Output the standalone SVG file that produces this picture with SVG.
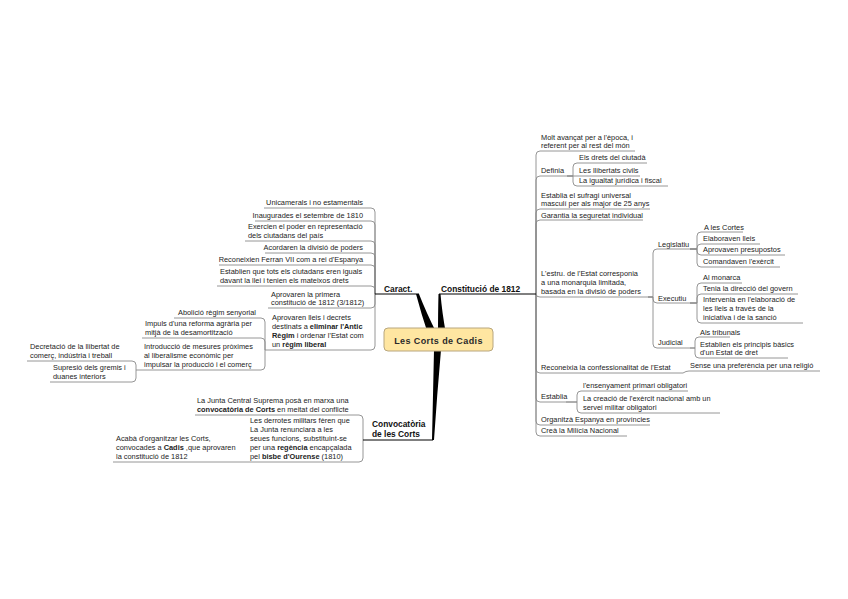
<svg xmlns="http://www.w3.org/2000/svg" width="848" height="599" viewBox="0 0 848 599">
<style>
.t{font-family:"Liberation Sans",Arial,sans-serif;font-size:7.4px;fill:#222}
.e{text-anchor:end}
.b{font-weight:bold}
.m{font-family:"Liberation Sans",Arial,sans-serif;font-size:8.4px;font-weight:bold;fill:#111}
.u{stroke:#8a8a8a;stroke-width:0.9;fill:none}
.mu{stroke:#000;stroke-width:1;fill:none}
.c{stroke:#8a8a8a;stroke-width:0.9;fill:none}
.tp{fill:#000}
</style>
<rect width="848" height="599" fill="#fff"/>

<g id="connectors">
  <path class="tp" d="M416,294 L419,294 Q426,312 437,334 L428,334 Q421,313 416,294 Z"/>
  <path class="tp" d="M438.5,294 L440.5,294 Q442,312 446,334 L438,334 Q438,312 438.5,294 Z"/>
  <path class="tp" d="M434,350 L441,350 Q437,395 434,440 L432,440 Q433,395 434,350 Z"/>
  <path class="c" d="M375,294 V212 Q375,208 371,208"/>
  <path class="c" d="M375,294 V225 Q375,221 371,221"/>
  <path class="c" d="M375,294 V245 Q375,241 371,241"/>
  <path class="c" d="M375,294 V257 Q375,253 371,253"/>
  <path class="c" d="M375,294 V269 Q375,265 371,265"/>
  <path class="c" d="M375,294 V290 Q375,286 371,286"/>
  <path class="c" d="M375,294 V304 Q375,308 371,308"/>
  <path class="c" d="M375,294 V346 Q375,350 371,350"/>
  <path class="c" d="M265,350 V322 Q265,318 261,318"/>
  <path class="c" d="M265,350 V342 Q265,338 261,338"/>
  <path class="c" d="M265,350 V366 Q265,370 261,370"/>
  <path class="c" d="M136,370 V365 Q136,361 132,361"/>
  <path class="c" d="M136,370 V378 Q136,382 132,382"/>
  <path class="c" d="M363,440 V419 Q363,415 359,415"/>
  <path class="c" d="M363,440 V458 Q363,462 359,462"/>
  <path class="c" d="M242,462 Q240,462 238,462"/>
  <path class="c" d="M536,294 V155 Q536,151 540,151"/>
  <path class="c" d="M536,294 V180 Q536,176 540,176"/>
  <path class="c" d="M536,294 V213 Q536,209 540,209"/>
  <path class="c" d="M536,294 V224 Q536,220 540,220"/>
  <path class="c" d="M536,294 Q536,297 540,297"/>
  <path class="c" d="M536,294 V369 Q536,373 540,373"/>
  <path class="c" d="M536,294 V398 Q536,402 540,402"/>
  <path class="c" d="M536,294 V421 Q536,425 540,425"/>
  <path class="c" d="M536,294 V432 Q536,436 540,436"/>
  <path class="c" d="M567,176 H573 V167 Q573,163 577,163"/>
  <path class="c" d="M567,176 H577"/>
  <path class="c" d="M567,176 H573 V182 Q573,186 577,186"/>
  <path class="c" d="M648,297 H653 V253 Q653,249 657,249"/>
  <path class="c" d="M648,297 H653 V299 Q653,303 657,303"/>
  <path class="c" d="M648,297 H653 V344 Q653,348 657,348"/>
  <path class="c" d="M690,249 H697 V236 Q697,232 701,232"/>
  <path class="c" d="M690,249 H697 V248 Q697,244 701,244"/>
  <path class="c" d="M690,249 H697 V251 Q697,255 701,255"/>
  <path class="c" d="M690,249 H697 V263 Q697,267 701,267"/>
  <path class="c" d="M690,303 H697 V287 Q697,283 701,283"/>
  <path class="c" d="M690,303 H697 V298 Q697,294 701,294"/>
  <path class="c" d="M690,303 H697 V319 Q697,323 701,323"/>
  <path class="c" d="M690,348 H695 V341 Q695,337 699,337"/>
  <path class="c" d="M690,348 H695 V354 Q695,358 699,358"/>
  <path class="c" d="M683,373 Q686,371 689,371"/>
  <path class="c" d="M566,402 H577 V395 Q577,391 581,391"/>
  <path class="c" d="M566,402 H577 V409 Q577,413 581,413"/>
</g>

<g id="n-center">
  <rect x="384" y="328" width="109" height="23" rx="4" fill="#FFE6A1" stroke="#B8A67E" stroke-width="1"/>
  <text x="438.5" y="344" text-anchor="middle" font-family="'Liberation Sans',Arial,sans-serif" font-size="9" font-weight="bold" letter-spacing="0.4" fill="#2a2a2a">Les Corts de Cadis</text>
</g>

<g id="n-caract">
  <text class="m" x="384" y="292">Caract.</text>
  <path class="mu" d="M375,294 H419"/>
</g>
<g id="n-ca1"><text class="t e" x="363" y="204.5">Unicamerals i no estamentals</text><path class="u" d="M264,208 H371"/></g>
<g id="n-ca2"><text class="t e" x="363" y="217.5">Inaugurades el setembre de 1810</text><path class="u" d="M255,221 H371"/></g>
<g id="n-ca3"><text class="t" x="248" y="228.5">Exercien el poder en representació</text><text class="t" x="248" y="237.5">dels ciutadans del país</text><path class="u" d="M245,241 H371"/></g>
<g id="n-ca4"><text class="t e" x="363" y="249.5">Acordaren la divisió de poders</text><path class="u" d="M265,253 H371"/></g>
<g id="n-ca5"><text class="t e" x="363" y="261.5">Reconeixien Ferran VII com a rei d'Espanya</text><path class="u" d="M219,265 H371"/></g>
<g id="n-ca6"><text class="t" x="220" y="273.5">Establien que tots els ciutadans eren iguals</text><text class="t" x="220" y="282.5">davant la llei i tenien els mateixos drets</text><path class="u" d="M217,286 H371"/></g>
<g id="n-ca7"><text class="t" x="271" y="297">Aprovaren la primera</text><text class="t" x="271" y="305">constitució de 1812 (3/1812)</text><path class="u" d="M268,308 H371"/></g>
<g id="n-ca8"><text class="t" x="272" y="320">Aprovaren lleis i decrets</text><text class="t" x="272" y="329">destinats a <tspan class="b">eliminar l'Antic</tspan></text><text class="t" x="272" y="338"><tspan class="b">Règim</tspan> i ordenar l'Estat com</text><text class="t" x="272" y="347">un <tspan class="b">règim liberal</tspan></text><path class="u" d="M265,350 H371"/></g>
<g id="n-ca8a"><text class="t e" x="256" y="315">Abolició règim senyorial</text><path class="u" d="M174,318 H261"/></g>
<g id="n-ca8b"><text class="t" x="145" y="326">Impuls d'una reforma agrària per</text><text class="t" x="145" y="335">mitjà de la desamortització</text><path class="u" d="M142,338 H261"/></g>
<g id="n-ca8c"><text class="t" x="144" y="349">Introducció de mesures pròximes</text><text class="t" x="144" y="358">al liberalisme econòmic per</text><text class="t" x="144" y="367">impulsar la producció i el comerç</text><path class="u" d="M136,370 H261"/></g>
<g id="n-ca8c1"><text class="t" x="30" y="349">Decretació de la llibertat de</text><text class="t" x="30" y="358">comerç, indústria i treball</text><path class="u" d="M27,361 H132"/></g>
<g id="n-ca8c2"><text class="t" x="53" y="370">Supresió dels gremis i</text><text class="t" x="53" y="379">duanes interiors</text><path class="u" d="M50,382 H132"/></g>

<g id="n-convocatoria">
  <text class="m" x="372" y="427">Convocatòria</text>
  <text class="m" x="372" y="437">de les Corts</text>
  <path class="mu" d="M363,440 H433"/>
</g>
<g id="n-co1"><text class="t" x="197" y="403">La Junta Central Suprema posà en marxa una</text><text class="t" x="197" y="412"><tspan class="b">convocatòria de Corts</tspan> en meitat del conflicte</text><path class="u" d="M195,415 H359"/></g>
<g id="n-co2"><text class="t" x="250" y="423">Les derrotes militars fèren que</text><text class="t" x="250" y="432">La Junta renunciara a les</text><text class="t" x="250" y="441">seues funcions, substituint-se</text><text class="t" x="250" y="450">per una <tspan class="b">regència</tspan> encapçalada</text><text class="t" x="250" y="459">pel <tspan class="b">bisbe d'Ourense</tspan> (1810)</text><path class="u" d="M242,462 H359"/></g>
<g id="n-co2a"><text class="t" x="116" y="441">Acabà d'organitzar les Corts,</text><text class="t" x="116" y="450">convocades a <tspan class="b">Cadis</tspan> ,que aprovaren</text><text class="t" x="116" y="459">la constitució de 1812</text><path class="u" d="M113,462 H238"/></g>

<g id="n-constitucio">
  <text class="m" x="441" y="292">Constitució de 1812</text>
  <path class="mu" d="M439,294 H536"/>
</g>
<g id="n-r1"><text class="t" x="541" y="139.5">Molt avançat per a l'època, i</text><text class="t" x="541" y="148">referent per al rest del món</text><path class="u" d="M540,151 H635"/></g>
<g id="n-r2"><text class="t" x="541" y="173">Definia</text><path class="u" d="M540,176 H567"/></g>
<g id="n-r2a"><text class="t" x="579" y="160">Els drets del ciutadà</text><path class="u" d="M577,163 H647"/></g>
<g id="n-r2b"><text class="t" x="579" y="173">Les llibertats civils</text><path class="u" d="M577,176 H640"/></g>
<g id="n-r2c"><text class="t" x="579" y="183">La igualtat jurídica i fiscal</text><path class="u" d="M577,186 H668"/></g>
<g id="n-r3"><text class="t" x="541" y="197.5">Establia el sufragi universal</text><text class="t" x="541" y="206">masculí per als major de 25 anys</text><path class="u" d="M540,209 H650"/></g>
<g id="n-r4"><text class="t" x="541" y="217.5">Garantia la seguretat individual</text><path class="u" d="M540,220 H643"/></g>
<g id="n-r5"><text class="t" x="541" y="276">L'estru. de l'Estat corresponia</text><text class="t" x="541" y="285">a una monarquia limitada,</text><text class="t" x="541" y="294">basada en la divisió de poders</text><path class="u" d="M540,297 H648"/></g>
<g id="n-leg"><text class="t" x="658" y="246.5">Legislatiu</text><path class="u" d="M657,249 H690"/></g>
<g id="n-leg1"><text class="t" x="704" y="229.5">A les Cortes</text><path class="u" d="M701,232 H743"/></g>
<g id="n-leg2"><text class="t" x="703" y="241">Elaboraven lleis</text><path class="u" d="M701,244 H760"/></g>
<g id="n-leg3"><text class="t" x="703" y="252">Aprovaven presupostos</text><path class="u" d="M701,255 H785"/></g>
<g id="n-leg4"><text class="t" x="703" y="264">Comandaven l'exèrcit</text><path class="u" d="M701,267 H780"/></g>
<g id="n-exe"><text class="t" x="658" y="300.5">Executiu</text><path class="u" d="M657,303 H690"/></g>
<g id="n-exe1"><text class="t" x="703" y="280">Al monarca</text><path class="u" d="M701,283 H742"/></g>
<g id="n-exe2"><text class="t" x="703" y="291">Tenia la direcció del govern</text><path class="u" d="M701,294 H798"/></g>
<g id="n-exe3"><text class="t" x="703" y="302">Intervenia en l'elaboració de</text><text class="t" x="703" y="311">les lleis a través de la</text><text class="t" x="703" y="320">iniciativa i de la sanció</text><path class="u" d="M701,323 H803"/></g>
<g id="n-jud"><text class="t" x="658" y="345">Judicial</text><path class="u" d="M657,348 H690"/></g>
<g id="n-jud1"><text class="t" x="700" y="334.5">Als tribunals</text><path class="u" d="M699,337 H730"/></g>
<g id="n-jud2"><text class="t" x="700" y="346.5">Establien els principis bàsics</text><text class="t" x="700" y="355">d'un Estat de dret</text><path class="u" d="M699,358 H788"/></g>
<g id="n-r6"><text class="t" x="541" y="370">Reconeixia la confessionalitat de l'Estat</text><path class="u" d="M540,373 H683"/></g>
<g id="n-r6a"><text class="t" x="690" y="368">Sense una preferència per una religió</text><path class="u" d="M689,371 H820"/></g>
<g id="n-r7"><text class="t" x="541" y="398.5">Establia</text><path class="u" d="M540,402 H566"/></g>
<g id="n-r7a"><text class="t" x="583" y="388">l'ensenyament primari obligatori</text><path class="u" d="M581,391 H688"/></g>
<g id="n-r7b"><text class="t" x="583" y="401">La creació de l'exèrcit nacional amb un</text><text class="t" x="583" y="410">servei militar obligatori</text><path class="u" d="M581,413 H720"/></g>
<g id="n-r8"><text class="t" x="541" y="422">Organitzà Espanya en províncies</text><path class="u" d="M540,425 H650"/></g>
<g id="n-r9"><text class="t" x="541" y="433">Creà la Milícia Nacional</text><path class="u" d="M540,436 H627"/></g>
</svg>
